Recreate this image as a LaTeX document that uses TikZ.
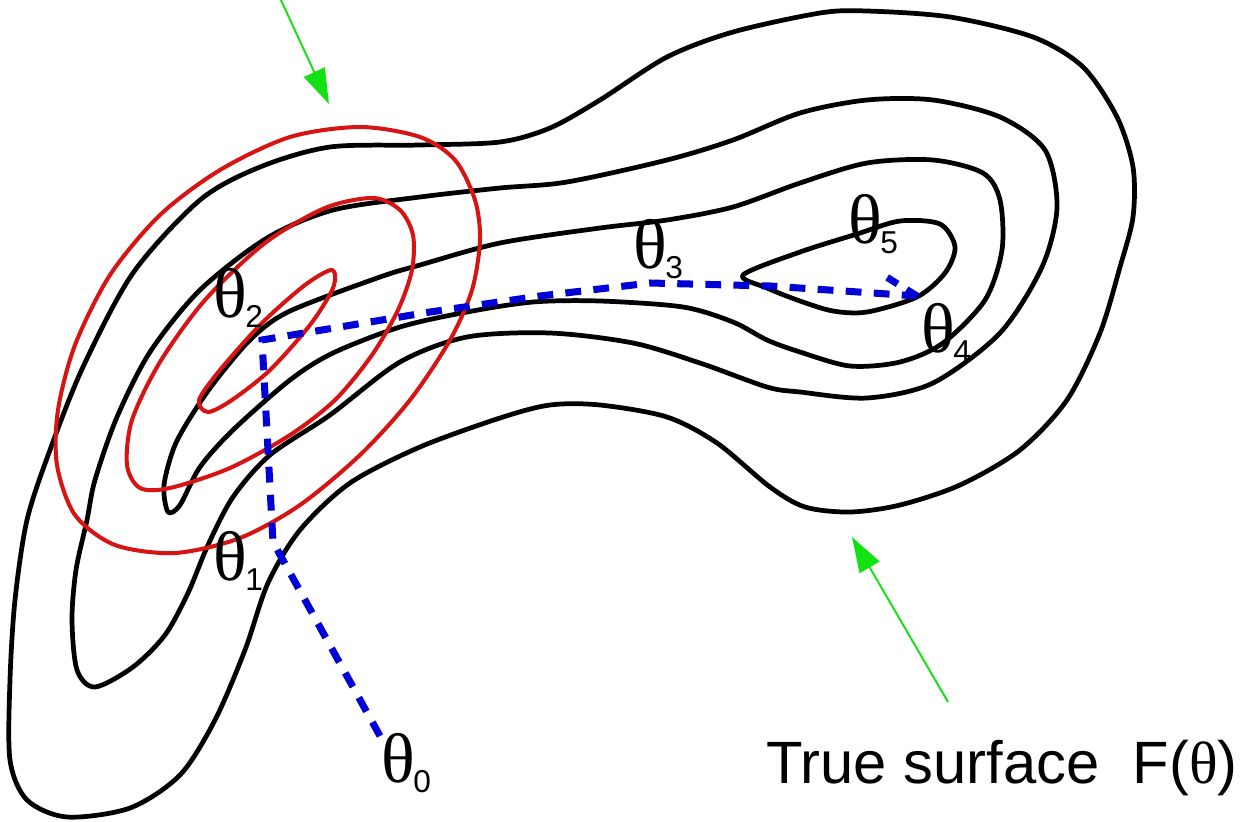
\documentclass[tikz,border=0pt]{standalone}
\usepackage{fontspec}
\setmainfont{Liberation Serif}
\newfontfamily\hel{Liberation Sans}
\usetikzlibrary{arrows.meta}
\definecolor{cgreen}{RGB}{20,225,20}
\definecolor{cred}{RGB}{215,20,20}
\definecolor{cblue}{RGB}{0,0,215}
\newcommand\thlabel[1]{θ\kern-1pt\raisebox{-6pt}{\hel\fontsize{18}{18}\selectfont #1}}
\begin{document}
\begin{tikzpicture}[x=0.02cm,y=-0.02cm,
  contour/.style={line width=2.7pt, line join=round},
  fitring/.style={cred, line width=2.3pt},
  route/.style={cblue, line width=4pt, dash pattern=on 9pt off 7pt},
  pointer/.style={cgreen, line width=1.1pt, -{Triangle[length=20pt,width=13pt]}},
  thlab/.style={inner sep=0pt, anchor=base west, font=\fontsize{40}{40}\selectfont},
  caption/.style={inner sep=0pt, anchor=base west, font=\hel\fontsize{34}{34}\selectfont}]
\useasboundingbox (0,0) rectangle (1249,822);

% black contours of the true surface
\draw[contour] plot[smooth cycle] coordinates {
 (330,147) (420,145) (500,142) (550,128) (600,100) (667,57) (733,32) (820,13)
 (867,11) (950,17) (1033,37) (1083,67) (1117,117) (1133,167) (1133,217) (1120,267)
 (1100,333) (1067,400) (1020,450) (960,485) (900,505) (850,512) (805,507) (770,487)
 (717,443) (667,417) (600,405) (550,405) (500,418) (420,447) (350,483) (300,530)
 (268,583) (245,650) (215,720) (180,775) (130,808) (67,817) (27,800) (10,760)
 (10,680) (15,600) (27,520) (50,450) (83,367) (133,273) (200,200) (260,167)};
\draw[contour] plot[smooth cycle] coordinates {
 (87,520) (95,480) (117,417) (150,352) (200,290) (267,238) (333,210) (420,197)
 (500,188) (567,182) (667,160) (733,140) (800,113) (867,100) (933,100) (1000,117)
 (1045,150) (1057,207) (1042,267) (1000,333) (933,383) (867,398) (800,392) (767,387)
 (700,363) (633,343) (550,333) (467,337) (400,362) (330,415) (270,455) (233,497)
 (208,545) (188,593) (165,635) (133,667) (95,687) (77,670) (72,620) (76,570)};
\draw[contour] plot[smooth cycle] coordinates {
 (168,512) (164,485) (175,445) (197,407) (220,375) (253,337) (290,311) (380,277)
 (420,265) (500,243) (600,228) (667,220) (733,207) (800,183) (867,163) (933,160)
 (983,173) (1000,200) (1002,250) (985,300) (943,343) (900,362) (850,366) (800,352)
 (767,340) (733,322) (683,307) (600,301) (533,302) (467,312) (400,327) (333,353)
 (290,380) (233,430) (200,467) (180,505)};
\draw[contour] plot[smooth cycle] coordinates {
 (743,275) (800,252) (857,234) (900,221) (940,224) (955,247) (945,273) (917,297)
 (867,312) (833,311) (800,301) (767,288)};

% red contours of the local model
\draw[fitring] plot[smooth cycle] coordinates {
 (360,127) (420,137) (455,160) (475,200) (480,240) (472,290) (450,340) (410,400)
 (360,455) (300,505) (240,538) (175,553) (115,545) (75,515) (57,465) (58,410)
 (75,345) (110,275) (160,215) (220,170) (290,137)};
\draw[fitring] plot[smooth cycle] coordinates {
 (373,198) (400,210) (413,235) (412,270) (398,310) (372,355) (335,400) (290,435)
 (230,468) (170,488) (140,488) (127,465) (132,420) (160,362) (205,300) (265,243)
 (325,208)};
\draw[fitring] plot[smooth cycle] coordinates {
 (332,270) (333,288) (310,325) (270,370) (232,400) (208,412) (199,400) (220,370)
 (262,323) (305,285)};

% optimisation path
\coordinate (p0) at (380,736);
\coordinate (p1) at (273,542);
\coordinate (p2) at (262,340);
\coordinate (pa) at (430,312);
\coordinate (pb) at (540,296);
\coordinate (p3) at (650,283);
\coordinate (pc) at (770,286);
\coordinate (p4) at (917,296);
\coordinate (p5) at (880,273);
\draw[route] (p0) -- (p1) -- (p2) -- (pa) -- (pb) -- (p3) -- (pc) -- (p4);
\draw[route, dash pattern=on 7pt off 6pt] (p4) -- (p5);

% labels
\node[thlab] (l0) at (381,782) {\thlabel{0}};
\node[thlab] (l1) at (213,580) {\thlabel{1}};
\node[thlab] (l2) at (213,317) {\thlabel{2}};
\node[thlab] (l3) at (633,268) {\thlabel{3}};
\node[thlab] (l4) at (921,352) {\thlabel{4}};
\node[thlab] (l5) at (848,243) {\thlabel{5}};
\node[caption] (cap) at (766,783) {True surface\ \ F({\rmfamily θ})};

% green pointers
\coordinate (g1s) at (280,-2);
\coordinate (g1e) at (329,104);
\coordinate (g2s) at (948,702);
\coordinate (g2e) at (852,537);
\draw[pointer] (g1s) -- (g1e);
\draw[pointer] (g2s) -- (g2e);
\end{tikzpicture}
\end{document}
